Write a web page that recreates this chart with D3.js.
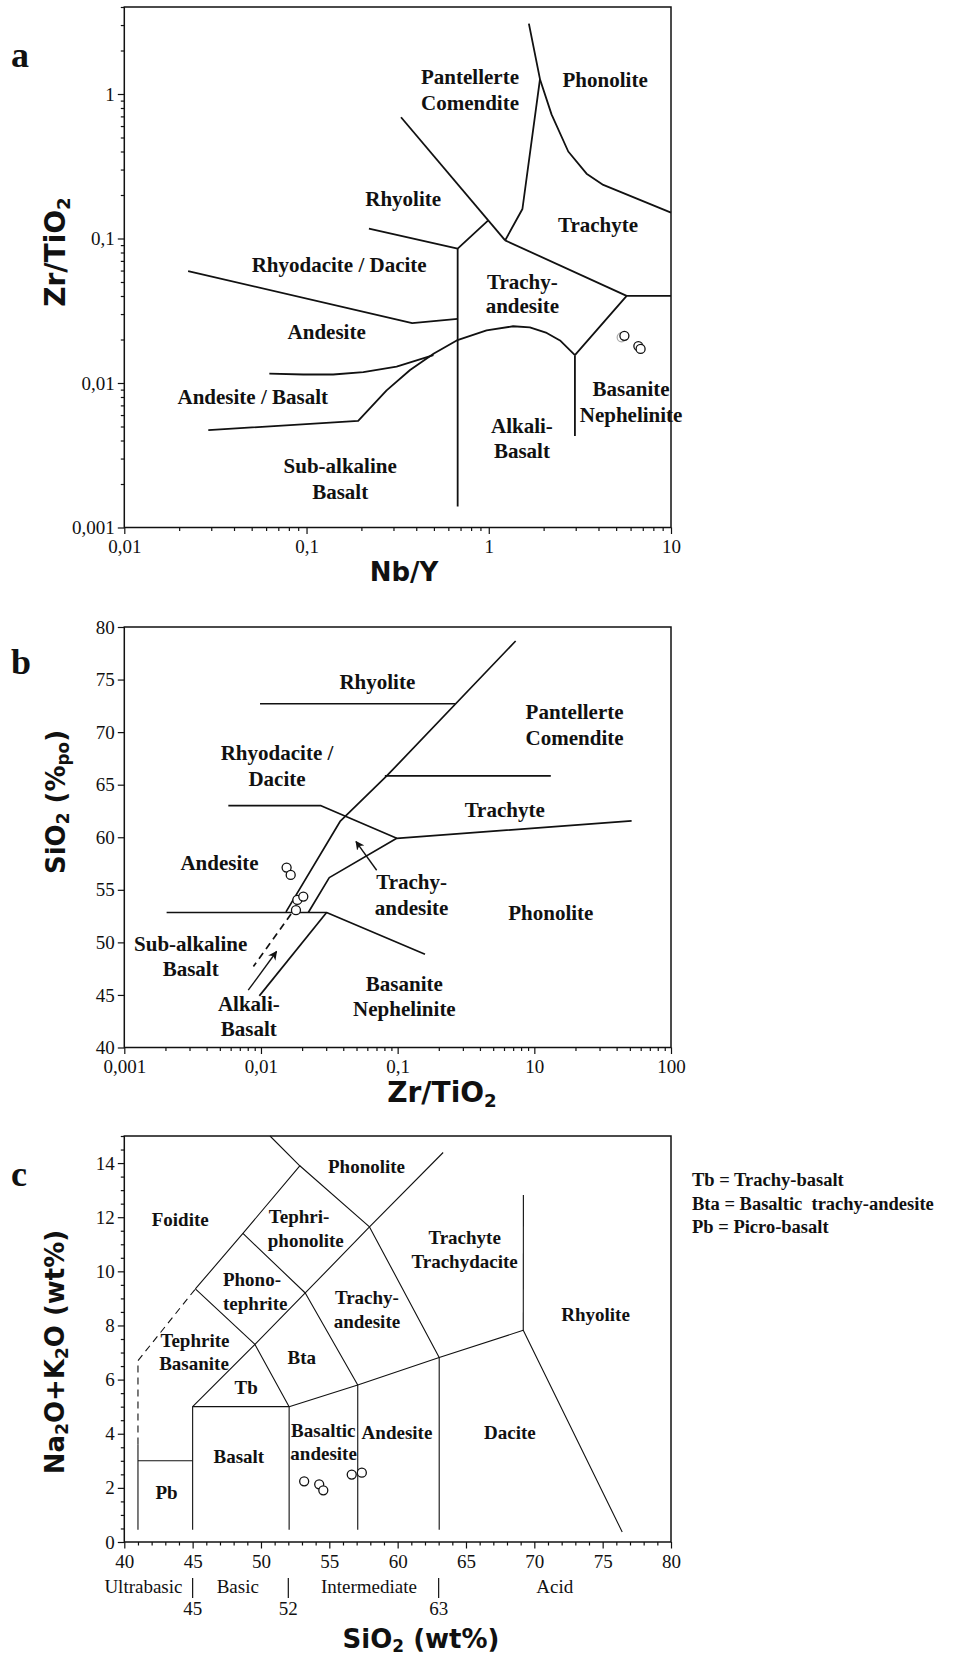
<!DOCTYPE html>
<html>
<head>
<meta charset="utf-8">
<script src="https://cdnjs.cloudflare.com/ajax/libs/d3/7.8.5/d3.min.js"></script>
<style>
  body { margin: 0; background: #fff; }
  svg text { font-family: 'Liberation Serif', 'Times New Roman', serif; fill: #111; }
</style>
</head>
<body>
<svg id="chart" width="956" height="1663"></svg>
<script>
// ---------- panel a : Zr/TiO2 vs Nb/Y (log-log) ----------
const aXTicks = [0.01, 0.1, 1, 10];
const aYTicks = [0.001, 0.01, 0.1, 1];
const aLines = [
  [[0.33, 0.69], [1.23, 0.097]],
  [[0.22, 0.117], [0.675, 0.085], [0.99, 0.133]],
  [[0.675, 0.085], [0.675, 0.0014]],
  [[0.0224, 0.0595], [0.38, 0.026], [0.675, 0.0278]],
  [[0.0625, 0.0116], [0.096, 0.01145], [0.14, 0.01145], [0.205, 0.0119], [0.312, 0.013], [0.497, 0.01557]],
  [[0.0289, 0.00472], [0.192, 0.00547], [0.275, 0.00889], [0.37, 0.0123], [0.5, 0.016], [0.667, 0.0197],
   [0.973, 0.0231], [1.36, 0.0247], [1.68, 0.0243], [2.08, 0.0222], [2.46, 0.0197], [2.97, 0.01557]],
  [[2.97, 0.01557], [2.97, 0.0043]],
  [[2.97, 0.01557], [5.71, 0.0401], [10, 0.0401]],
  [[1.23, 0.097], [5.71, 0.0401]],
  [[1.66, 3.07], [1.91, 1.266], [2.21, 0.723], [2.73, 0.40], [3.44, 0.281], [4.25, 0.235], [10, 0.151]],
  [[1.91, 1.266], [1.53, 0.16], [1.23, 0.097]],
];
const aSamples = [[5.55, 0.0212], [6.62, 0.018], [6.81, 0.0172]];
const aGhostSamples = [[5.36, 0.0207]];
const aFields = [
  { t: 'Pantellerte', x: 0.789, y: 1.31 },
  { t: 'Comendite', x: 0.789, y: 0.866 },
  { t: 'Phonolite', x: 4.35, y: 1.26 },
  { t: 'Rhyolite', x: 0.339, y: 0.189 },
  { t: 'Trachyte', x: 3.98, y: 0.124 },
  { t: 'Rhyodacite / Dacite', x: 0.151, y: 0.0656 },
  { t: 'Trachy-', x: 1.53, y: 0.05 },
  { t: 'andesite', x: 1.53, y: 0.0341 },
  { t: 'Andesite', x: 0.129, y: 0.02254 },
  { t: 'Andesite / Basalt', x: 0.0507, y: 0.008 },
  { t: 'Basanite', x: 6.04, y: 0.00908 },
  { t: 'Nephelinite', x: 6.04, y: 0.006 },
  { t: 'Alkali-', x: 1.52, y: 0.00504 },
  { t: 'Basalt', x: 1.52, y: 0.00338 },
  { t: 'Sub-alkaline', x: 0.153, y: 0.00267 },
  { t: 'Basalt', x: 0.153, y: 0.00176 },
];

// ---------- panel b : SiO2 vs Zr/TiO2 ----------
const bXTicks = [0.001, 0.01, 0.1, 1, 10];
const bXTickLabels = ['0,001', '0,01', '0,1', '10', '100'];
const bYTicks = [40, 45, 50, 55, 60, 65, 70, 75, 80];
const bLines = [
  [[0.01524, 52.9], [0.0379, 61.5], [0.0832, 65.83], [0.73, 78.67]],
  [[0.0222, 52.84], [0.0316, 56.16], [0.0985, 59.9], [5.15, 61.55]],
  [[0.00577, 63], [0.0275, 63], [0.0985, 59.9]],
  [[0.00984, 72.7], [0.263, 72.7]],
  [[0.0806, 65.83], [1.32, 65.83]],
  [[0.00204, 52.84], [0.0302, 52.84], [0.1585, 48.87]],
  [[0.00973, 44.91], [0.0302, 52.84]],
];
const bDashed = [[[0.0166, 52.7], [0.0088, 47.7]]];
const bArrows = [
  [[0.0702, 56.86], [0.0496, 59.59]],
  [[0.00807, 45.45], [0.013, 49.13]],
];
const bSamples = [[0.0154, 57.12], [0.0165, 56.42], [0.01845, 54.04], [0.0204, 54.36], [0.01803, 53.06]];
const bFields = [
  { t: 'Rhyolite', x: 0.071, y: 74.78 },
  { t: 'Pantellerte', x: 1.97, y: 71.93 },
  { t: 'Comendite', x: 1.97, y: 69.5 },
  { t: 'Rhyodacite /', x: 0.0131, y: 68.0 },
  { t: 'Dacite', x: 0.0131, y: 65.6 },
  { t: 'Trachyte', x: 0.607, y: 62.59 },
  { t: 'Andesite', x: 0.00497, y: 57.55 },
  { t: 'Trachy-', x: 0.1265, y: 55.74 },
  { t: 'andesite', x: 0.1265, y: 53.26 },
  { t: 'Phonolite', x: 1.32, y: 52.8 },
  { t: 'Sub-alkaline', x: 0.00306, y: 49.86 },
  { t: 'Basalt', x: 0.00306, y: 47.5 },
  { t: 'Basanite', x: 0.112, y: 46.06 },
  { t: 'Nephelinite', x: 0.112, y: 43.68 },
  { t: 'Alkali-', x: 0.00815, y: 44.13 },
  { t: 'Basalt', x: 0.00815, y: 41.79 },
];

// ---------- panel c : TAS diagram ----------
const cXTicks = [40, 45, 50, 55, 60, 65, 70, 75, 80];
const cYTicks = [0, 2, 4, 6, 8, 10, 12, 14];
const cLines = [
  [[41, 0.45], [41, 3.6]],
  [[41, 3], [45, 3]],
  [[45, 0.45], [45, 5], [52.06, 5], [52.06, 0.45]],
  [[45, 5], [49.56, 7.3], [53.24, 9.2], [57.94, 11.64], [63.33, 14.39]],
  [[45.2, 9.35], [49.56, 7.3], [52.06, 5]],
  [[45.2, 9.35], [48.68, 11.4], [52.84, 13.9], [50.66, 15]],
  [[48.68, 11.4], [53.24, 9.2], [57.08, 5.8], [57.08, 0.45]],
  [[52.84, 13.9], [57.94, 11.64], [63.04, 6.82], [63.04, 0.45]],
  [[52.06, 5], [57.08, 5.8], [63.04, 6.82], [69.19, 7.82], [76.43, 0.37]],
  [[69.19, 7.82], [69.2, 12.82]],
];
const cDashed = [[[41, 3.6], [41, 6.7], [45.2, 9.35]]];
const cSamples = [[53.16, 2.24], [54.26, 2.13], [54.56, 1.91], [56.64, 2.49], [57.38, 2.56]];
const cFields = [
  { t: 'Phonolite', x: 57.72, y: 13.87 },
  { t: 'Foidite', x: 44.09, y: 11.9 },
  { t: 'Tephri-', x: 52.79, y: 12.01 },
  { t: 'phonolite', x: 53.28, y: 11.12 },
  { t: 'Trachyte', x: 64.9, y: 11.25 },
  { t: 'Trachydacite', x: 64.9, y: 10.38 },
  { t: 'Phono-', x: 49.34, y: 9.68 },
  { t: 'tephrite', x: 49.58, y: 8.81 },
  { t: 'Trachy-', x: 57.75, y: 9.03 },
  { t: 'andesite', x: 57.75, y: 8.13 },
  { t: 'Rhyolite', x: 74.48, y: 8.41 },
  { t: 'Tephrite', x: 45.17, y: 7.43 },
  { t: 'Basanite', x: 45.1, y: 6.58 },
  { t: 'Bta', x: 52.99, y: 6.8 },
  { t: 'Tb', x: 48.92, y: 5.69 },
  { t: 'Basaltic', x: 54.56, y: 4.1 },
  { t: 'andesite', x: 54.58, y: 3.27 },
  { t: 'Andesite', x: 59.95, y: 4.06 },
  { t: 'Dacite', x: 68.21, y: 4.06 },
  { t: 'Basalt', x: 48.38, y: 3.14 },
  { t: 'Pb', x: 43.09, y: 1.84 },
];
const cClasses = ['Ultrabasic', 'Basic', 'Intermediate', 'Acid'];
const cClassCentres = [41.4, 48.3, 57.9, 71.5];
const cClassLimits = [45, 52, 63];
const cLegend = ['Tb = Trachy-basalt', 'Bta = Basaltic  trachy-andesite', 'Pb = Picro-basalt'];

const svg = d3.select('#chart');
const INK = '#111';
const SANS = "'DejaVu Sans', 'Verdana', sans-serif";

// arrow head for panel b
svg.append('defs').append('marker')
  .attr('id', 'arrow')
  .attr('viewBox', '0 0 10 10')
  .attr('refX', 9).attr('refY', 5)
  .attr('markerWidth', 9).attr('markerHeight', 9)
  .attr('markerUnits', 'userSpaceOnUse')
  .attr('orient', 'auto')
  .append('path')
  .attr('d', 'M0,0 L10,5 L0,10 L3,5 Z')
  .attr('fill', INK);

// one axis with long labelled ticks and short unlabelled ones
const addAxis = ({ scale, side, at, major, minor, format }) => {
  const gen = side === 'bottom' ? d3.axisBottom : d3.axisLeft;
  const g = svg.append('g')
    .attr('transform', side === 'bottom' ? `translate(0,${at})` : `translate(${at},0)`);
  if (minor.length) {
    g.append('g').call(gen(scale).tickValues(minor).tickSize(3.5).tickFormat(''));
  }
  g.append('g').call(
    gen(scale).tickValues(major).tickSize(6.5)
      .tickPadding(side === 'bottom' ? 6 : 3)
      .tickFormat(format)
  );
  g.selectAll('.domain').remove();
  g.selectAll('line').attr('stroke', INK).attr('stroke-width', 1.2);
  g.selectAll('text').attr('font-size', 19);
};

// frame, boundaries, samples and field names of one diagram
const drawPanel = ({ x, y, lines, dashed = [], arrows = [], samples, ghosts = [], fields, fontSize, lineWidth }) => {
  const [x0, x1] = x.range();
  const [y0, y1] = y.range();
  const path = d3.line().x((d) => x(d[0])).y((d) => y(d[1]));

  svg.append('rect')
    .attr('x', x0).attr('y', y1)
    .attr('width', x1 - x0).attr('height', y0 - y1)
    .attr('fill', 'none').attr('stroke', INK).attr('stroke-width', 1.5);

  const g = svg.append('g').attr('fill', 'none').attr('stroke', INK)
    .attr('stroke-width', lineWidth).attr('stroke-linejoin', 'round');
  g.selectAll('.bound').data(lines).join('path').attr('class', 'bound').attr('d', path);
  g.selectAll('.dash').data(dashed).join('path').attr('class', 'dash')
    .attr('d', path).attr('stroke-dasharray', '7,5');
  g.selectAll('.arrow').data(arrows).join('path').attr('class', 'arrow')
    .attr('d', path).attr('stroke-width', 1.4).attr('marker-end', 'url(#arrow)');

  svg.append('g').selectAll('circle').data(ghosts).join('circle')
    .attr('cx', (d) => x(d[0])).attr('cy', (d) => y(d[1])).attr('r', 4.5)
    .attr('fill', '#fff').attr('stroke', '#aaa').attr('stroke-width', 1.2);
  svg.append('g').selectAll('circle').data(samples).join('circle')
    .attr('cx', (d) => x(d[0])).attr('cy', (d) => y(d[1])).attr('r', 4.5)
    .attr('fill', '#fff').attr('stroke', INK).attr('stroke-width', 1.3);

  svg.append('g').selectAll('text').data(fields).join('text')
    .attr('x', (d) => x(d.x)).attr('y', (d) => y(d.y))
    .attr('dy', '0.34em')
    .attr('text-anchor', 'middle')
    .attr('font-weight', 'bold')
    .attr('font-size', fontSize)
    .text((d) => d.t);
};

// axis title made of plain and subscript pieces (sans font set as a style so the css rule does not win)
const addTitle = ({ parts, cx, cy, rotate = false, size = 26 }) => {
  const t = svg.append('text')
    .attr('transform', `translate(${cx},${cy})${rotate ? ' rotate(-90)' : ''}`)
    .attr('text-anchor', 'middle')
    .attr('dy', '0.36em')
    .style('font-family', SANS)
    .attr('font-weight', 'bold')
    .attr('font-size', size);
  parts.forEach(([s, sub]) => {
    t.append('tspan')
      .attr('font-size', sub ? size * 0.65 : size)
      .attr('baseline-shift', sub ? '-25%' : null)
      .style('white-space', 'pre')
      .text(s);
  });
};

const panelLetter = (s, baseline) => {
  svg.append('text')
    .attr('x', 11).attr('y', baseline)
    .attr('font-weight', 'bold').attr('font-size', 36)
    .text(s);
};

const comma = (d) => String(d).replace('.', ',');

// ---------- panel a ----------
const xa = d3.scaleLog().domain([0.01, 10]).range([124.3, 671]);
const ya = d3.scaleLog().domain([0.001, 4]).range([527.5, 7]);
addAxis({ scale: xa, side: 'bottom', at: 527.5, major: aXTicks,
  minor: xa.ticks().filter((v) => !aXTicks.includes(v)), format: comma });
addAxis({ scale: ya, side: 'left', at: 124.3, major: aYTicks,
  minor: ya.ticks().filter((v) => !aYTicks.includes(v)), format: comma });
drawPanel({ x: xa, y: ya, lines: aLines, samples: aSamples, ghosts: aGhostSamples,
  fields: aFields, fontSize: 21, lineWidth: 1.8 });
addTitle({ parts: [['Nb/Y']], cx: 404, cy: 572 });
addTitle({ parts: [['Zr/TiO'], ['2', true]], cx: 55, cy: 252, rotate: true, size: 28 });
panelLetter('a', 67);

// ---------- panel b ----------
const xb = d3.scaleLog().domain([0.001, 10]).range([124.3, 671]);
const yb = d3.scaleLinear().domain([40, 80]).range([1047.5, 627]);
addAxis({ scale: xb, side: 'bottom', at: 1047.5, major: bXTicks,
  minor: xb.ticks().filter((v) => !bXTicks.includes(v)),
  format: (d, i) => bXTickLabels[i] });
addAxis({ scale: yb, side: 'left', at: 124.3, major: bYTicks, minor: [], format: d3.format('d') });
drawPanel({ x: xb, y: yb, lines: bLines, dashed: bDashed, arrows: bArrows, samples: bSamples,
  fields: bFields, fontSize: 21, lineWidth: 1.7 });
addTitle({ parts: [['Zr/TiO'], ['2', true]], cx: 442, cy: 1092, size: 28 });
addTitle({ parts: [['SiO'], ['2', true], [' (%'], ['po', true], [')']], cx: 56, cy: 802, rotate: true });
panelLetter('b', 674);

// ---------- panel c ----------
const xc = d3.scaleLinear().domain([40, 80]).range([124.3, 671]);
const yc = d3.scaleLinear().domain([0, 15]).range([1542, 1136]);
addAxis({ scale: xc, side: 'bottom', at: 1542, major: cXTicks,
  minor: d3.range(40, 81, 1).filter((v) => !cXTicks.includes(v)), format: d3.format('d') });
addAxis({ scale: yc, side: 'left', at: 124.3, major: cYTicks,
  minor: d3.range(0, 15.01, 0.5).filter((v) => !cYTicks.includes(v)), format: d3.format('d') });
drawPanel({ x: xc, y: yc, lines: cLines, dashed: cDashed, samples: cSamples,
  fields: cFields, fontSize: 19, lineWidth: 1.1 });

// silica classes under the x axis
const classRow = svg.append('g').attr('font-size', 19);
classRow.selectAll('.cls').data(cClasses).join('text').attr('class', 'cls')
  .attr('x', (d, i) => xc(cClassCentres[i])).attr('y', 1587).attr('dy', '0.34em')
  .attr('text-anchor', 'middle').text((d) => d);
classRow.selectAll('line').data(cClassLimits).join('line')
  .attr('x1', (d) => xc(d)).attr('x2', (d) => xc(d))
  .attr('y1', 1578).attr('y2', 1598)
  .attr('stroke', INK).attr('stroke-width', 1.2);
classRow.selectAll('.lim').data(cClassLimits).join('text').attr('class', 'lim')
  .attr('x', (d) => xc(d)).attr('y', 1609).attr('dy', '0.34em')
  .attr('text-anchor', 'middle').text((d) => d);

// abbreviations
svg.append('g').selectAll('text').data(cLegend).join('text')
  .attr('x', 692).attr('y', (d, i) => 1180 + i * 23.3).attr('dy', '0.34em')
  .attr('font-weight', 'bold').attr('font-size', 18.5)
  .style('white-space', 'pre')
  .text((d) => d);

addTitle({ parts: [['SiO'], ['2', true], [' (wt%)']], cx: 421, cy: 1639 });
addTitle({ parts: [['Na'], ['2', true], ['O+K'], ['2', true], ['O (wt%)']], cx: 55, cy: 1352, rotate: true });
panelLetter('c', 1186);
</script>
</body>
</html>
